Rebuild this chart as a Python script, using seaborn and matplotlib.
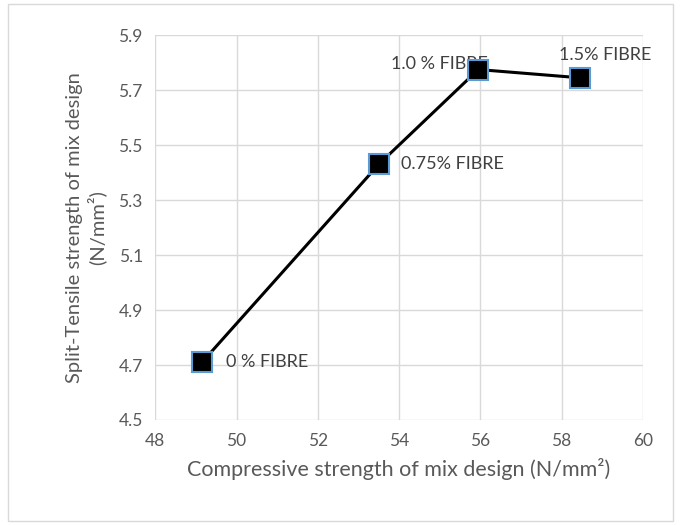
import matplotlib
matplotlib.use('Agg')
import matplotlib.pyplot as plt
import seaborn as sns
import pandas as pd

compressive = [49.15, 53.5, 55.95, 58.45]
split_tensile = [4.71, 5.43, 5.775, 5.745]
labels = ['0 % FIBRE', '0.75% FIBRE', '1.0 % FIBRE', '1.5% FIBRE']

df = pd.DataFrame({'x': compressive, 'y': split_tensile})

sns.set_style('white')
plt.rcParams['font.family'] = ['Lato', 'DejaVu Sans']
grey = '#595959'

fig = plt.figure(figsize=(6.81, 5.25), dpi=100)
ax = fig.add_axes([0.228, 0.2, 0.716, 0.733])

sns.lineplot(data=df, x='x', y='y', ax=ax, color='black', linewidth=2.2,
             marker='s', markersize=15, markerfacecolor='black',
             markeredgecolor='#5B9BD5', markeredgewidth=1.5, zorder=3)

# data labels (offsets in points)
offsets = [(17, 0, 'left'), (16, 0, 'left'), (7, 4, 'right'), (-15, 16.5, 'left')]
for xv, yv, lab, (dx, dy, ha) in zip(compressive, split_tensile, labels, offsets):
    ax.annotate(lab, (xv, yv), xytext=(dx, dy), textcoords='offset points',
                ha=ha, va='center', fontsize=13, color='#404040', zorder=2,
                annotation_clip=False)

ax.set_xlim(48, 60)
ax.set_ylim(4.5, 5.9)
ax.set_xticks(range(48, 61, 2))
ax.set_yticks([4.5, 4.7, 4.9, 5.1, 5.3, 5.5, 5.7, 5.9])
ax.set_yticklabels(['4.5', '4.7', '4.9', '5.1', '5.3', '5.5', '5.7', '5.9'])
ax.grid(True, color='#d9d9d9', linewidth=1)
ax.set_axisbelow(True)
for s in ax.spines.values():
    s.set_visible(False)
ax.tick_params(axis='both', length=0, labelsize=12.5, colors=grey, pad=9)

ax.set_xlabel('Compressive strength of mix design (N/mm²)', fontsize=15.5, color=grey, labelpad=7)
ax.set_ylabel('Split-Tensile strength of mix design\n(N/mm²)', fontsize=14.5, color=grey, labelpad=9)

# outer chart border
border = plt.Rectangle((0.012, 0.008), 0.976, 0.984, transform=fig.transFigure,
                       fill=False, edgecolor='#d9d9d9', linewidth=1)
fig.patches.append(border)

fig.savefig('out.png', dpi=100)
